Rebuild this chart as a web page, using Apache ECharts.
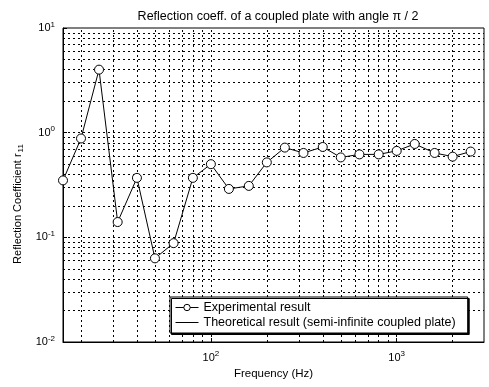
<!DOCTYPE html>
<html>
<head>
<meta charset="utf-8">
<script src="https://cdn.jsdelivr.net/npm/echarts@6/dist/echarts.min.js"></script>
<style>
  html, body { margin: 0; padding: 0; background: #fff; }
  #main { width: 489px; height: 387px; }
</style>
</head>
<body>
<div id="main"></div>
<script>
// 1/3 octave band centre frequencies (Hz)
var freqs = [16, 20, 25, 31.5, 40, 50, 63, 80, 100, 125, 160, 200, 250, 315, 400, 500, 630, 800, 1000, 1250, 1600, 2000, 2500];
// measured reflection coefficient r11
var experimental = [0.35, 0.88, 4.0, 0.14, 0.37, 0.063, 0.088, 0.37, 0.5, 0.29, 0.31, 0.52, 0.72, 0.64, 0.73, 0.58, 0.62, 0.62, 0.67, 0.78, 0.64, 0.59, 0.66];
// log grid lines
var xGrid = [20, 30, 40, 50, 60, 70, 80, 90, 100, 200, 300, 400, 500, 600, 700, 800, 900, 1000, 2000];
var yGrid = [0.02, 0.03, 0.04, 0.05, 0.06, 0.07, 0.08, 0.09, 0.1, 0.2, 0.3, 0.4, 0.5, 0.6, 0.7, 0.8, 0.9, 1, 2, 3, 4, 5, 6, 7, 8, 9];

var font = 'Liberation Sans, Arial, sans-serif';
var myChart = echarts.init(document.getElementById('main'));

function powLabel(v) {
    var e = Math.round(Math.log10(v));
    if (Math.abs(Math.pow(10, e) - v) > 1e-9 * v) return '';
    return '10{sup|' + e + '}';
}
var powRich = {
    sup: { fontSize: 8, fontFamily: font, color: '#000', padding: [0, 0, 7, 0] }
};

var gridLines = [];
xGrid.forEach(function (v) { gridLines.push({ xAxis: v }); });
yGrid.forEach(function (v) { gridLines.push({ yAxis: v }); });

var pts = freqs.map(function (f, i) { return [f, experimental[i]]; });

var option = {
    backgroundColor: '#fff',
    animation: false,
    textStyle: { fontFamily: font, color: '#000' },
    title: {
        text: 'Reflection coeff. of a coupled plate with angle π / 2',
        left: 273, top: 5, textAlign: 'center',
        textStyle: { fontSize: 12.5, fontWeight: 'normal', color: '#000', fontFamily: font }
    },
    grid: {
        left: 63, right: 5, top: 28, bottom: 45,
        show: true, borderColor: '#000', borderWidth: 1, backgroundColor: 'transparent'
    },
    legend: {
        orient: 'vertical',
        left: 170, top: 297,
        padding: [4, 12, 4, 5],
        itemGap: 2,
        itemWidth: 23, itemHeight: 8,
        backgroundColor: '#fff',
        borderColor: '#000', borderWidth: 1,
        shadowColor: '#000', shadowOffsetX: 1.5, shadowOffsetY: 1.5, shadowBlur: 0,
        textStyle: { fontSize: 12.5, fontFamily: font, color: '#000' },
        data: [
            { name: 'Experimental result', itemStyle: { color: '#fff', borderColor: '#000', borderWidth: 1 }, lineStyle: { width: 1 } },
            { name: 'Theoretical result (semi-infinite coupled plate)', itemStyle: { color: 'transparent', borderColor: 'transparent' }, lineStyle: { width: 1 } }
        ]
    },
    xAxis: {
        type: 'log', logBase: 10, min: 16, max: 2950,
        name: 'Frequency (Hz)', nameLocation: 'middle', nameGap: 24,
        nameTextStyle: { fontSize: 11.5, fontFamily: font, color: '#000' },
        axisLine: { lineStyle: { color: '#000' } },
        axisTick: { inside: true, length: 4, lineStyle: { color: '#000' } },
        axisLabel: { formatter: powLabel, rich: powRich, fontSize: 11, color: '#000', margin: 8, showMinLabel: false, showMaxLabel: false },
        splitLine: { show: false }
    },
    yAxis: {
        type: 'log', logBase: 10, min: 0.01, max: 10,
        name: 'Reflection Coefficient r{sub|11}', nameLocation: 'middle', nameGap: 35,
        nameTextStyle: {
            fontSize: 11, fontFamily: font, color: '#000',
            padding: [0, 38, 0, 0],
            rich: { sub: { fontSize: 8, fontFamily: font, color: '#000', padding: [6, 0, 0, 1] } }
        },
        axisLine: { lineStyle: { color: '#000' } },
        axisTick: { inside: true, length: 4, lineStyle: { color: '#000' } },
        axisLabel: { formatter: powLabel, rich: powRich, fontSize: 11, color: '#000', margin: 8 },
        splitLine: { show: false }
    },
    series: [
        {
            name: 'Experimental result',
            type: 'line',
            data: pts,
            symbol: 'circle',
            symbolSize: 9,
            itemStyle: { color: '#fff', borderColor: '#000', borderWidth: 1 },
            lineStyle: { color: '#000', width: 1 },
            z: 3,
            markLine: {
                silent: true,
                symbol: 'none',
                label: { show: false },
                lineStyle: { color: '#000', type: [2, 3], width: 1 },
                data: gridLines,
                z: 1
            }
        },
        {
            name: 'Theoretical result (semi-infinite coupled plate)',
            type: 'line',
            data: [],
            symbol: 'none',
            itemStyle: { color: '#000' },
            lineStyle: { color: '#000', width: 1 }
        }
    ]
};
myChart.setOption(option);
</script>
</body>
</html>
